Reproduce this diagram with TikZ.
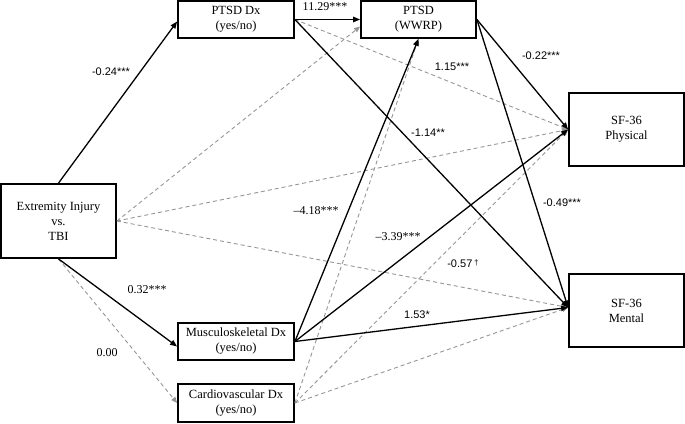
\documentclass[tikz,border=0pt]{standalone}
\usepackage{fontspec}
\setmainfont{Liberation Serif}
\newfontfamily\lsans{Liberation Sans}
\usetikzlibrary{arrows.meta}
\definecolor{dgray}{RGB}{150,150,150}
\begin{document}
\begin{tikzpicture}[x=1pt,y=-1pt,
  box/.style={draw, line width=1.8pt, inner sep=0pt, align=center, font=\fontsize{12.5}{15}\selectfont},
  solidarrow/.style={line width=1.3pt, -{Triangle[length=7pt,width=5.5pt]}},
  dasharrow/.style={dgray, line width=0.9pt, dash pattern=on 4pt off 3pt, -{Triangle[length=6pt,width=5pt]}},
  lblserif/.style={font=\fontsize{12}{14}\selectfont, inner sep=0pt},
  lblsans/.style={font=\lsans\fontsize{11}{13}\selectfont, inner sep=0pt}]
\useasboundingbox (0,0) rectangle (685,423);
% boxes
\node[box, minimum width=116pt, minimum height=37pt] (ptsddx) at (236,19.5) {PTSD Dx\\(yes/no)};
\node[box, minimum width=115pt, minimum height=37pt] (wwrp) at (418.5,19.5) {PTSD\\(WWRP)};
\node[box, minimum width=115pt, minimum height=73pt] (phys) at (626.5,129.5) {SF-36\\Physical};
\node[box, minimum width=115pt, minimum height=73pt] (ment) at (626.5,310.5) {SF-36\\Mental};
\node[box, minimum width=115pt, minimum height=74pt] (ext) at (58.5,221) {Extremity Injury\\vs.\\TBI};
\node[box, minimum width=116pt, minimum height=37pt] (musc) at (236,341.5) {Musculoskeletal Dx\\(yes/no)};
\node[box, minimum width=116pt, minimum height=38pt] (cardio) at (236,403) {Cardiovascular Dx\\(yes/no)};
% dashed paths
\draw[dasharrow] (ext.south) -- (cardio.west);
\draw[dasharrow] (ext.east) -- ([yshift=-7pt]wwrp.west);
\draw[dasharrow] (ext.east) -- (phys.west);
\draw[dasharrow] (ext.east) -- ([yshift=3pt]ment.west);
\draw[dasharrow] (ptsddx.east) -- (phys.west);
\draw[dasharrow] (cardio.east) -- (wwrp.south);
\draw[dasharrow] (cardio.east) -- (phys.west);
\draw[dasharrow] (cardio.east) -- ([yshift=3pt]ment.west);
% solid paths
\draw[solidarrow] (ext.north) -- ([yshift=-2pt]ptsddx.west);
\draw[solidarrow] (ext.south) -- ([yshift=-5pt]musc.west);
\draw[solidarrow] (ptsddx.east) -- (wwrp.west);
\draw[solidarrow] (ptsddx.east) -- ([yshift=3pt]ment.west);
\draw[solidarrow] (wwrp.east) -- (phys.west);
\draw[solidarrow] (wwrp.east) -- ([yshift=3pt]ment.west);
\draw[solidarrow] (musc.east) -- (wwrp.south);
\draw[solidarrow] (musc.east) -- (phys.west);
\draw[solidarrow] (musc.east) -- ([yshift=3pt]ment.west);
% labels
\node[lblsans] (l1) at (111,72) {-0.24***};
\node[lblserif] (l2) at (325,7) {11.29***};
\node[lblsans] (l3) at (452,67) {1.15***};
\node[lblsans] (l4) at (428,133) {-1.14**};
\node[lblsans] (l5) at (541,56) {-0.22***};
\node[lblsans] (l6) at (562,203) {-0.49***};
\node[lblserif] (l7) at (316,211) {–4.18***};
\node[lblserif] (l8) at (398,237) {–3.39***};
\node[lblsans] (l9) at (463,264) {-0.57\,\raisebox{2pt}{\fontsize{8}{9}\selectfont †}};
\node[lblsans] (l10) at (417,315) {1.53*};
\node[lblserif] (l11) at (147,290) {0.32***};
\node[lblserif] (l12) at (107,353) {0.00};
\end{tikzpicture}
\end{document}
